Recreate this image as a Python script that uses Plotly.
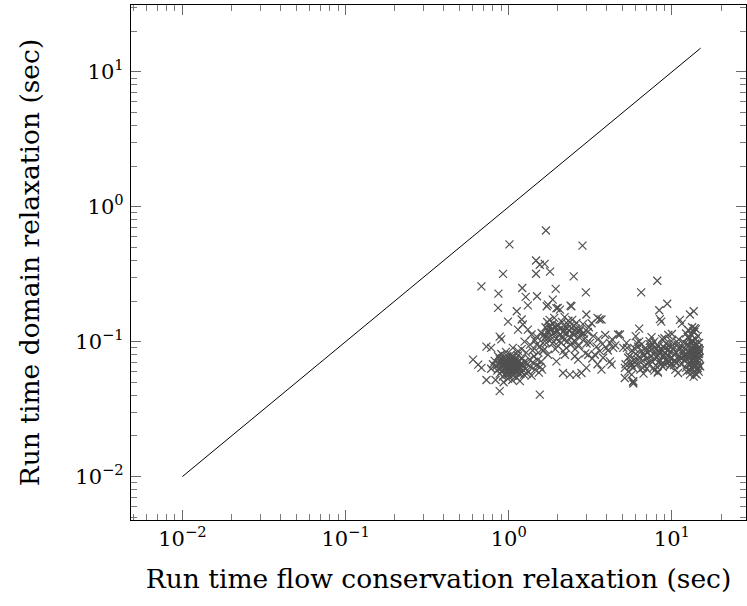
import plotly.graph_objects as go

# Run times (sec) per instance: flow conservation relaxation (x) vs domain relaxation (y)

# scattered points above / between the dense groups
upper_flow = [
    1.69, 1.01, 2.83, 1.47, 1.55, 1.66, 1.79, 1.47, 0.923, 2.50, 8.13, 0.68, 0.865, 1.21, 1.27,
    1.49, 1.94, 2.97, 6.48, 1.31, 1.74, 2.39, 0.86, 9.36, 8.36, 8.44, 13.6, 11.2, 11.5,
    1.86, 2.00, 1.71, 1.12, 0.99, 1.20, 1.22, 1.14, 1.31, 1.38, 1.48, 1.59, 1.66, 1.74,
    0.88, 0.90, 0.73, 0.78, 1.06, 1.14, 1.48, 1.62, 1.74, 0.604, 0.65, 0.68, 0.88, 1.55, 0.73,
    1.96, 2.06, 2.42, 2.99, 3.70, 3.22, 4.68, 4.17, 3.97, 4.37, 5.03, 5.27, 3.07, 3.37, 3.62,
    3.79, 1.96, 2.21, 2.54, 2.66, 2.99, 3.70, 2.15, 2.37, 2.60, 2.79, 4.17, 4.27, 5.39, 5.66,
    5.15, 5.66, 5.80, 4.80, 3.50, 3.60, 12.9, 8.60, 6.30, 13.8, 13.5, 5.80, 8.20, 10.9, 14.9,
    5.14, 5.78,
]
upper_domain = [
    0.667, 0.526, 0.515, 0.400, 0.372, 0.377, 0.331, 0.319, 0.318, 0.305, 0.283, 0.257, 0.227,
    0.250, 0.215, 0.217, 0.246, 0.232, 0.232, 0.186, 0.188, 0.185, 0.178, 0.191, 0.171, 0.147,
    0.168, 0.145, 0.136,
    0.205, 0.178, 0.183, 0.168, 0.141, 0.146, 0.134, 0.123, 0.123, 0.113, 0.109, 0.116, 0.106,
    0.119, 0.109, 0.104, 0.092, 0.090, 0.090, 0.085, 0.095, 0.085, 0.080, 0.0736, 0.0676, 0.064,
    0.043, 0.0405, 0.052,
    0.177, 0.173, 0.183, 0.159, 0.146, 0.137, 0.113, 0.098, 0.090, 0.090, 0.090, 0.098, 0.080,
    0.080, 0.085, 0.076, 0.0715, 0.080, 0.078, 0.0736, 0.064, 0.062, 0.0586, 0.057, 0.057,
    0.0586, 0.0715, 0.0676, 0.076, 0.0676, 0.064, 0.057, 0.051, 0.113, 0.150, 0.146, 0.159,
    0.141, 0.125, 0.126, 0.119, 0.049, 0.060, 0.0586, 0.0656, 0.0538, 0.0503,
]

# dense group around 1 s
near1_flow = [
    0.82, 0.84, 0.85, 0.86, 0.87, 0.88, 0.88, 0.89, 0.90, 0.90, 0.91, 0.92, 0.92, 0.93, 0.94,
    0.94, 0.95, 0.95, 0.96, 0.96, 0.97, 0.97, 0.98, 0.98, 0.99, 0.99, 1.00, 1.00, 1.01, 1.01,
    1.02, 1.02, 1.03, 1.03, 1.04, 1.04, 1.05, 1.05, 1.06, 1.06, 1.07, 1.07, 1.08, 1.09, 1.09,
    1.10, 1.10, 1.11, 1.12, 1.12, 1.13, 1.14, 1.15, 1.15, 1.16, 1.18, 1.19, 1.20, 1.21, 1.22,
    1.24, 1.25, 1.27, 1.28, 1.30, 1.32, 1.34, 1.36, 1.38, 1.40, 1.43, 1.45, 1.48, 1.50, 1.53,
    1.56, 1.58, 1.60, 0.78, 0.80, 0.83, 0.93, 1.05, 1.17, 0.99,
    1.25, 1.35, 1.45, 1.55, 1.62, 1.70, 1.20, 1.40, 1.52, 1.66,
    0.87, 0.91, 0.95, 0.98, 1.02, 1.06, 1.10, 1.14, 1.18, 0.93, 0.97, 1.01, 1.04, 1.08, 1.12,
    0.89, 1.23, 1.29,
]
near1_domain = [
    0.072, 0.066, 0.061, 0.078, 0.069, 0.058, 0.074, 0.064, 0.081, 0.060, 0.070, 0.066, 0.055,
    0.076, 0.062, 0.071, 0.067, 0.058, 0.084, 0.073, 0.064, 0.069, 0.060, 0.078, 0.066, 0.072,
    0.063, 0.057, 0.070, 0.075, 0.065, 0.061, 0.068, 0.080, 0.059, 0.073, 0.066, 0.070, 0.063,
    0.056, 0.077, 0.068, 0.062, 0.071, 0.065, 0.059, 0.074, 0.067, 0.054, 0.070, 0.063, 0.079,
    0.066, 0.058, 0.072, 0.064, 0.069, 0.060, 0.075, 0.067, 0.057, 0.071, 0.063, 0.083, 0.068,
    0.060, 0.074, 0.065, 0.056, 0.070, 0.078, 0.062, 0.067, 0.073, 0.059, 0.065, 0.071, 0.062,
    0.063, 0.068, 0.052, 0.050, 0.052, 0.051, 0.053,
    0.100, 0.095, 0.102, 0.092, 0.098, 0.110, 0.088, 0.086, 0.083, 0.088,
    0.063, 0.075, 0.070, 0.062, 0.073, 0.060, 0.066, 0.071, 0.058, 0.068, 0.057, 0.066, 0.077,
    0.070, 0.061, 0.070, 0.065, 0.058,
]

# middle group, roughly 1.6 - 4.5 s
middle_flow = [
    1.68, 1.72, 1.75, 1.78, 1.80, 1.83, 1.86, 1.88, 1.92, 1.95, 1.98, 2.02, 2.05, 2.08, 2.12,
    2.15, 2.18, 2.22, 2.26, 2.30, 2.34, 2.38, 2.42, 2.47, 2.52, 2.57, 2.62, 2.68, 2.74, 2.80,
    1.85, 2.00, 2.10, 2.25, 2.40, 2.55, 2.70, 1.90, 2.20, 2.45, 2.90, 3.05, 3.15, 3.30, 3.45,
    3.55, 3.75, 3.90, 4.05, 4.30, 4.50, 2.85, 3.10, 2.95, 3.25, 3.50,
    1.64, 1.70, 1.77, 1.82, 1.90, 1.97, 2.04, 2.13, 2.20, 2.28, 2.36, 2.44, 2.50, 2.58, 2.65,
    2.72, 2.88, 3.00, 1.78, 2.32, 2.60, 1.93, 2.16,
]
middle_domain = [
    0.128, 0.140, 0.118, 0.131, 0.110, 0.124, 0.136, 0.115, 0.128, 0.105, 0.120, 0.132, 0.112,
    0.125, 0.140, 0.118, 0.103, 0.128, 0.114, 0.135, 0.121, 0.108, 0.126, 0.116, 0.131, 0.100,
    0.118, 0.109, 0.124, 0.113, 0.097, 0.093, 0.098, 0.090, 0.095, 0.088, 0.094, 0.150, 0.152,
    0.145, 0.104, 0.118, 0.098, 0.110, 0.092, 0.105, 0.096, 0.112, 0.086, 0.104, 0.094, 0.135,
    0.128, 0.082, 0.075, 0.068,
    0.112, 0.098, 0.126, 0.104, 0.118, 0.132, 0.101, 0.110, 0.122, 0.100, 0.130, 0.098, 0.112,
    0.125, 0.093, 0.120, 0.115, 0.097, 0.145, 0.143, 0.138, 0.088, 0.085,
]

# band between about 5 and 12 s
band_flow = [
    5.5, 5.6, 5.7, 5.8, 5.9, 6.0, 6.1, 6.2, 6.3, 6.4, 6.5, 6.6, 6.7, 6.8, 6.9, 7.0, 7.1, 7.2,
    7.3, 7.4, 7.5, 7.6, 7.7, 7.8, 7.9, 8.0, 8.1, 8.2, 8.3, 8.4, 8.5, 8.6, 8.7, 8.8, 8.9, 9.0,
    9.1, 9.2, 9.3, 9.4, 9.5, 9.6, 9.7, 9.8, 9.9, 10.0, 10.2, 10.4, 10.6, 10.8, 11.0, 11.2,
    11.4, 11.6, 11.8, 6.0, 7.5, 9.5, 8.2, 6.7, 10.5, 5.3, 5.2, 5.4, 6.3, 7.0, 9.0, 11.0, 10.0, 7.8,
    5.6, 5.9, 6.2, 6.5, 6.8, 7.1, 7.4, 7.7, 8.0, 8.3, 8.6, 8.9, 9.2, 9.5, 9.8, 10.1, 10.4, 10.7,
    11.0, 11.3, 11.6, 11.9, 6.1, 6.9, 7.6, 8.4, 9.1, 9.9, 10.7, 11.5, 6.6, 7.3, 8.1, 8.8, 9.6,
    10.3, 11.1, 11.8,
]
band_domain = [
    0.078, 0.070, 0.086, 0.064, 0.074, 0.081, 0.068, 0.092, 0.077, 0.062, 0.085, 0.072, 0.079,
    0.066, 0.090, 0.075, 0.083, 0.069, 0.096, 0.078, 0.087, 0.071, 0.081, 0.100, 0.074, 0.088,
    0.065, 0.079, 0.093, 0.083, 0.072, 0.087, 0.105, 0.077, 0.091, 0.068, 0.082, 0.097, 0.074,
    0.086, 0.079, 0.093, 0.066, 0.084, 0.101, 0.076, 0.089, 0.071, 0.083, 0.095, 0.078, 0.088,
    0.068, 0.082, 0.099, 0.110, 0.108, 0.112, 0.059, 0.058, 0.062, 0.090, 0.068, 0.060, 0.100,
    0.063, 0.106, 0.104, 0.114, 0.061,
    0.066, 0.089, 0.073, 0.095, 0.080, 0.070, 0.091, 0.064, 0.077, 0.086, 0.068, 0.080, 0.072,
    0.088, 0.075, 0.094, 0.081, 0.070, 0.090, 0.076, 0.087, 0.073, 0.098, 0.086, 0.096, 0.072,
    0.089, 0.069, 0.100, 0.092, 0.064, 0.101, 0.094, 0.065, 0.071, 0.067, 0.073, 0.078,
]

# tight column near 12 - 15 s
column_flow = [
    12.0, 12.1, 12.2, 12.3, 12.4, 12.5, 12.6, 12.7, 12.8, 12.9, 13.0, 13.0, 13.1, 13.2, 13.2,
    13.3, 13.4, 13.4, 13.5, 13.5, 13.6, 13.6, 13.7, 13.7, 13.8, 13.8, 13.9, 13.9, 14.0, 14.0,
    14.1, 14.1, 14.2, 14.2, 14.3, 14.3, 14.4, 14.4, 14.5, 14.5, 14.6, 14.6, 14.7, 14.7, 14.8,
    12.6, 13.3, 14.0, 12.9, 13.6, 14.2, 12.3, 14.8, 13.1, 12.2,
    12.4, 12.8, 13.1, 13.5, 13.9, 14.3, 14.6, 12.7, 13.3, 13.8, 14.4, 14.7, 12.5, 13.0,
]
column_domain = [
    0.072, 0.088, 0.064, 0.080, 0.096, 0.069, 0.084, 0.075, 0.105, 0.061, 0.090, 0.078, 0.068,
    0.085, 0.112, 0.073, 0.094, 0.063, 0.081, 0.100, 0.070, 0.088, 0.076, 0.118, 0.066, 0.092,
    0.083, 0.058, 0.074, 0.104, 0.087, 0.067, 0.079, 0.096, 0.062, 0.085, 0.072, 0.110, 0.090,
    0.069, 0.081, 0.060, 0.076, 0.098, 0.086, 0.122, 0.128, 0.124, 0.057, 0.055, 0.057, 0.060,
    0.066, 0.099, 0.115,
    0.078, 0.093, 0.082, 0.066, 0.097, 0.074, 0.089, 0.062, 0.102, 0.079, 0.064, 0.083, 0.108,
    0.070,
]

flow_time = upper_flow + near1_flow + middle_flow + band_flow + column_flow
domain_time = upper_domain + near1_domain + middle_domain + band_domain + column_domain
assert len(flow_time) == len(domain_time)

# Reference diagonal y = x
diag = [0.01, 15]

tick_vals = [0.01, 0.1, 1, 10]
tick_text = ["10<sup>−2</sup>", "10<sup>−1</sup>", "10<sup>0</sup>", "10<sup>1</sup>"]
minor_vals = [m * 10.0 ** e for e in (-3, -2, -1, 0, 1) for m in range(2, 10)]

X_RANGE = [-2.315, 1.454]
Y_RANGE = [-2.322, 1.496]
FONT = "DejaVu Serif"

fig = go.Figure()
# scatter on the main axes
fig.add_trace(go.Scatter(
    x=flow_time, y=domain_time, mode="markers",
    marker=dict(symbol="x-thin", size=8, line=dict(color="#505050", width=1.2)),
    showlegend=False,
))
# diagonal on the overlay axes that carry the minor ticks
fig.add_trace(go.Scatter(
    x=diag, y=diag, mode="lines", xaxis="x2", yaxis="y2",
    line=dict(color="black", width=1), hoverinfo="skip", showlegend=False,
))

major = dict(
    type="log",
    showgrid=False, zeroline=False,
    showline=True, linecolor="black", linewidth=1.2, mirror="ticks",
    ticks="inside", ticklen=10, tickwidth=1.2, tickcolor="#6a6a6a",
    tickmode="array", tickvals=tick_vals, ticktext=tick_text,
    tickfont=dict(family=FONT, size=21, color="black"),
)
minor = dict(
    type="log",
    showgrid=False, zeroline=False, showline=False, mirror="ticks",
    ticks="inside", ticklen=6, tickwidth=1.2, tickcolor="#7a7a7a",
    tickmode="array", tickvals=minor_vals, showticklabels=False,
)

fig.update_layout(
    width=747, height=606,
    margin=dict(l=131, r=1, t=5, b=86),
    paper_bgcolor="white", plot_bgcolor="white",
    font=dict(family=FONT, color="black"),
    xaxis=dict(major, range=X_RANGE,
               title=dict(text="Run time flow conservation relaxation (sec)",
                          font=dict(family=FONT, size=26.5), standoff=19)),
    yaxis=dict(major, range=Y_RANGE, ticklabelstandoff=2,
               title=dict(text="Run time domain relaxation (sec)",
                          font=dict(family=FONT, size=26.5), standoff=28)),
    xaxis2=dict(minor, range=X_RANGE, overlaying="x", anchor="y2", side="bottom"),
    yaxis2=dict(minor, range=Y_RANGE, overlaying="y", anchor="x2", side="left"),
)

fig.write_html("out.html")
